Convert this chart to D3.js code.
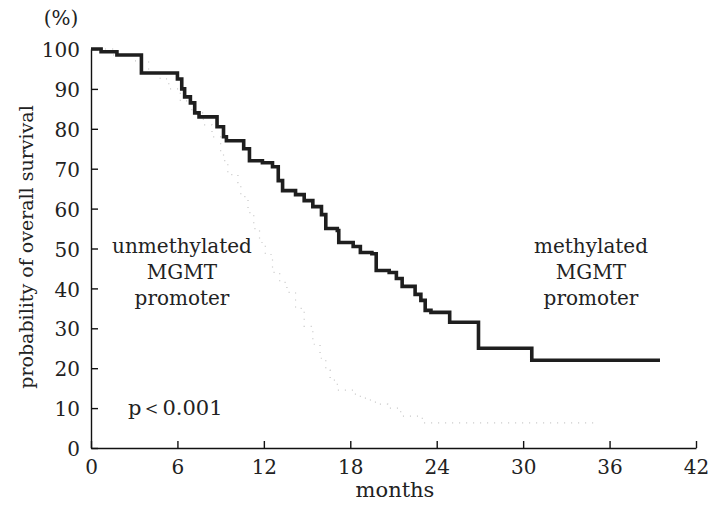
<!DOCTYPE html>
<html>
<head>
<meta charset="utf-8">
<script src="https://cdn.jsdelivr.net/npm/d3@7"></script>
<style>
  body { margin: 0; background: #fff; }
  svg text { font-family: "DejaVu Serif", "Liberation Serif", serif; fill: #222; }
</style>
</head>
<body>
<svg id="chart" width="711" height="511"></svg>
<script>
// methylated MGMT promoter: step times (months) and survival (%)
const metTimes = [0, 0.7, 1.8, 3.5, 6.0, 6.3, 6.5, 6.9, 7.2, 7.5, 8.75, 9.2, 9.4, 10.6, 11.0,
  11.9, 12.6, 13.0, 13.3, 14.2, 14.8, 15.4, 16.0, 16.3, 17.1, 17.2, 18.2, 18.7, 19.5, 19.8,
  20.7, 21.2, 21.6, 22.5, 22.9, 23.2, 23.6, 24.9, 26.9, 30.6, 39.5];
const metSurv = [100, 99.3, 98.5, 94, 92.5, 90, 88, 86.5, 84, 83, 80.5, 78, 77, 75, 72,
  71.5, 70.5, 67, 64.5, 63.5, 62, 60.5, 58.5, 55, 54.5, 51.5, 50.5, 49, 48.7, 44.5,
  44, 42.5, 40.5, 38.5, 37, 34.5, 34, 31.5, 25, 22, 22];

// unmethylated MGMT promoter (faint dotted curve)
const unmetTimes = [0, 1.5, 3.0, 4.0, 4.8, 5.4, 6.2, 7.0, 7.8, 8.4, 9.0, 9.2, 9.5, 10.2, 10.4,
  10.9, 11.3, 11.7, 12.1, 12.6, 13.1, 13.6, 14.2, 14.8, 15.4, 15.9, 16.3, 16.6, 17.1, 18.2,
  18.7, 19.4, 19.9, 20.6, 21.5, 23.0, 35.0];
const unmetSurv = [100, 98.5, 97, 94, 92.5, 90, 87, 84, 81, 78, 74.5, 72, 68.5, 66.5, 63,
  59, 55, 51.5, 48.5, 44, 41.5, 39, 35, 30.5, 26, 22.5, 19.5, 17, 14.5, 13.5,
  12.5, 11.5, 11, 10, 8, 6.3, 6.3];

const xTicks = [0, 6, 12, 18, 24, 30, 36, 42];
const yTicks = [0, 10, 20, 30, 40, 50, 60, 70, 80, 90, 100];

const d3 = window.d3;
const svg = d3.select('#chart');
const serif = '"DejaVu Serif", "Liberation Serif", serif';

const x = d3.scaleLinear().domain([0, 42]).range([91, 696]);
const y = d3.scaleLinear().domain([0, 100]).range([448, 49]);

// x axis, ticks pointing up into the plot
const xAxis = svg.append('g')
    .attr('transform', `translate(0,${y(0)})`)
    .call(d3.axisBottom(x).tickValues(xTicks).tickSize(-7).tickSizeOuter(0).tickPadding(12));

// y axis, ticks pointing right
const yAxis = svg.append('g')
    .attr('transform', `translate(${x(0)},0)`)
    .call(d3.axisLeft(y).tickValues(yTicks).tickSize(-7).tickSizeOuter(0).tickPadding(11));

[xAxis, yAxis].forEach((g) => {
  g.attr('font-family', serif);
  g.selectAll('path, line').attr('stroke', '#111').attr('stroke-width', 1.4);
  g.selectAll('text')
      .style('font-family', serif)
      .style('font-size', '20px')
      .attr('fill', '#222');
});
yAxis.selectAll('text').attr('dy', '0.38em');

const line = d3.line()
    .x((d) => x(d[0]))
    .y((d) => y(d[1]))
    .curve(d3.curveStepAfter);

// unmethylated curve: very faint dots
svg.append('path')
    .datum(d3.zip(unmetTimes, unmetSurv))
    .attr('d', line)
    .attr('fill', 'none')
    .attr('stroke', '#c4c4c4')
    .attr('stroke-width', 1.2)
    .attr('stroke-dasharray', '1 6');

// methylated curve: heavy line
svg.append('path')
    .datum(d3.zip(metTimes, metSurv))
    .attr('d', line)
    .attr('fill', 'none')
    .attr('stroke', '#1e1e1e')
    .attr('stroke-width', 3.6);

// labels
svg.append('text').attr('x', 61).attr('y', 25)
    .attr('text-anchor', 'middle').style('font-size', '20px').text('(%)');

svg.append('text')
    .attr('transform', 'translate(33,247) rotate(-90)')
    .attr('text-anchor', 'middle').style('font-size', '19px')
    .text('probability of overall survival');

svg.append('text').attr('x', 395).attr('y', 497)
    .attr('text-anchor', 'middle').style('font-size', '21px').text('months');

const unLines = ['unmethylated', 'MGMT', 'promoter'];
const meLines = ['methylated', 'MGMT', 'promoter'];
unLines.forEach((t, i) => {
  svg.append('text').attr('x', 182).attr('y', 253 + i * 26)
      .attr('text-anchor', 'middle').style('font-size', '20px').text(t);
});
meLines.forEach((t, i) => {
  svg.append('text').attr('x', 591).attr('y', 253 + i * 26)
      .attr('text-anchor', 'middle').style('font-size', '20px').text(t);
});

svg.append('text').attr('x', 128).attr('y', 415)
    .style('font-size', '21px').text('p＜0.001');
</script>
</body>
</html>
